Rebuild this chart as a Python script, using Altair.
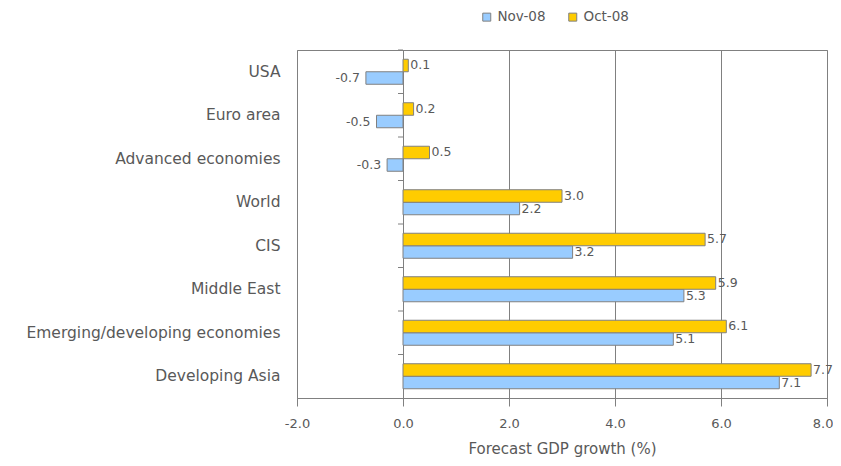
import altair as alt
import pandas as pd

categories = ["USA", "Euro area", "Advanced economies", "World", "CIS",
              "Middle East", "Emerging/developing economies", "Developing Asia"]
nov_08 = [-0.7, -0.5, -0.3, 2.2, 3.2, 5.3, 5.1, 7.1]
oct_08 = [0.1, 0.2, 0.5, 3.0, 5.7, 5.9, 6.1, 7.7]
series_names = ["Nov-08", "Oct-08"]
x_ticks = [-2, 0, 2, 4, 6, 8]

rows = []
for c, n, o in zip(categories, nov_08, oct_08):
    rows.append({"cat": c, "series": "Nov-08", "value": n, "label": f"{n:.1f}"})
    rows.append({"cat": c, "series": "Oct-08", "value": o, "label": f"{o:.1f}"})
df = pd.DataFrame(rows)
cat_df = pd.DataFrame({"cat": categories})

FONT = "DejaVu Sans"
GRAY = "#808080"
TXT = "#595959"

yscale = alt.Scale(paddingInner=0.425, paddingOuter=0.2125)
ysort = categories
off = alt.YOffset("series:N", sort=["Oct-08", "Nov-08"],
                  scale=alt.Scale(paddingInner=0, paddingOuter=0))
xenc = alt.X("value:Q", scale=alt.Scale(domain=[-2, 8], nice=False),
             axis=alt.Axis(values=x_ticks, format=".1f", title="Forecast GDP growth (%)",
                           labelExpr="replace(datum.label, '\u2212', '-')",
                           labelFlush=False,
                           labelAlign=alt.condition("datum.value >= 8", alt.value("right"),
                                                    alt.value("center")),
                           labelOffset=alt.condition("datum.value >= 8", alt.value(6),
                                                     alt.value(0)),
                           grid=True, gridColor=GRAY, gridOpacity=1, domainColor=GRAY,
                           tickColor=GRAY, tickSize=8, labelFont=FONT, labelFontSize=13,
                           labelColor=TXT, labelPadding=11, titleFont=FONT, titleFontSize=15,
                           titleFontWeight="normal", titleColor=TXT, titlePadding=11))

base = alt.Chart(df)

bars = base.mark_bar(stroke=GRAY, strokeWidth=1).encode(
    y=alt.Y("cat:N", sort=ysort, scale=yscale,
            axis=alt.Axis(title=None, ticks=False, domain=False, labelPadding=17,
                          labelLimit=400, labelFont=FONT, labelFontSize=15.5,
                          labelColor=TXT)),
    x=xenc,
    yOffset=off,
    color=alt.Color("series:N",
                    scale=alt.Scale(domain=series_names, range=["#99CCFF", "#FFCC00"]),
                    legend=alt.Legend(title=None, orient="none", direction="horizontal",
                                      legendX=183, legendY=-40, symbolType="square",
                                      symbolSize=64, symbolStrokeColor=GRAY,
                                      symbolStrokeWidth=1, labelFont=FONT, labelFontSize=13.5,
                                      labelColor=TXT, columnPadding=20)),
)

pos_labels = base.mark_text(align="left", baseline="middle", dx=2, font=FONT,
                            fontSize=12.5, color=TXT).encode(
    y=alt.Y("cat:N", sort=ysort, scale=yscale),
    yOffset=off,
    x=alt.X("value:Q"),
    text="label:N",
).transform_filter("datum.value >= 0")

neg_labels = base.mark_text(align="right", baseline="middle", dx=-6, font=FONT,
                            fontSize=12.5, color=TXT).encode(
    y=alt.Y("cat:N", sort=ysort, scale=yscale),
    yOffset=off,
    x=alt.X("value:Q"),
    text="label:N",
).transform_filter("datum.value < 0")

data_layers = alt.layer(bars, pos_labels, neg_labels)

cat_ticks = alt.Chart(cat_df).mark_rule(color=GRAY, strokeWidth=1).encode(
    y=alt.Y("cat:N", sort=ysort, scale=alt.Scale(paddingInner=0, paddingOuter=0),
            bandPosition=0, axis=None),
    x=alt.value(101),
    x2=alt.value(106),
)

chart = alt.layer(data_layers, cat_ticks).resolve_scale(y="independent").properties(
    width=530, height=348,
    autosize=alt.AutoSizeParams(type="none"),
    padding={"left": 289, "top": 42, "right": 6, "bottom": 60},
).configure_view(stroke=GRAY, strokeWidth=1)

chart.save("out.html", embed_options={"renderer": "svg", "actions": False})
